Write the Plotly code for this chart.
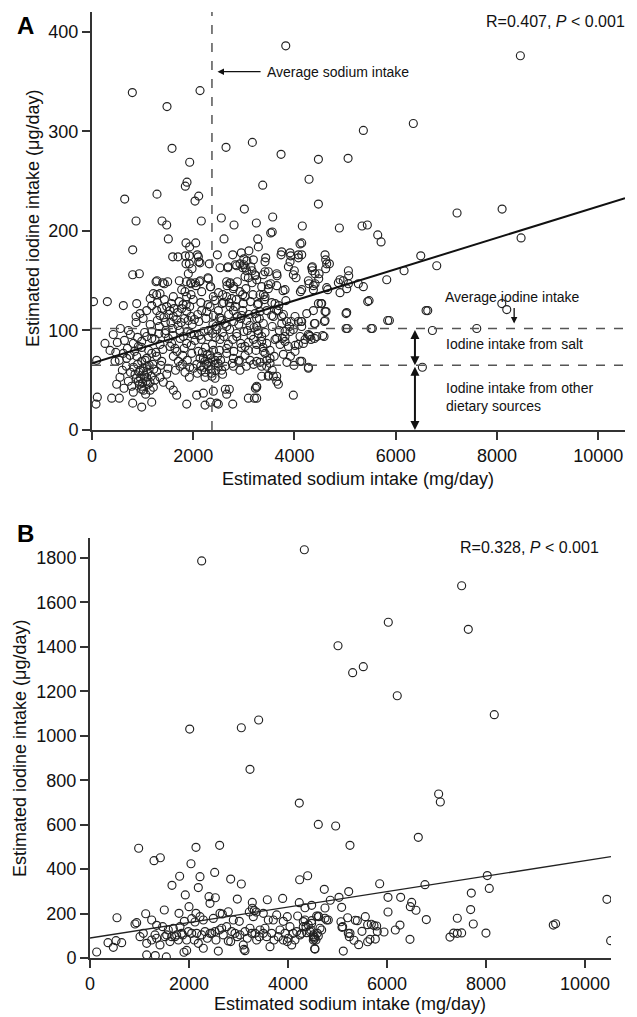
import plotly.graph_objects as go

W, H = 637, 1017
OFF = 8  # page body margin around the figure div

# ---- panel A: estimated sodium (mg/day) vs iodine (ug/day) ----
a_upper = [
    (3828, 386), (8463, 376), (797, 339), (2134, 341), (1482, 325), (6348, 308), (5361, 301),
    (1581, 283), (2648, 284), (3168, 289), (3735, 277), (1930, 269), (4473, 272), (5059, 273),
    (4288, 252), (1877, 249), (1844, 245), (3373, 246), (1284, 237), (646, 232), (2108, 235),
    (2035, 230), (4473, 227), (3010, 222), (7212, 218), (8102, 222), (870, 210), (1383, 210),
    (1476, 206), (2160, 210), (2555, 213), (2806, 206), (3247, 208), (3570, 214), (4155, 205),
    (3531, 198), (3560, 199), (1508, 192), (2608, 192), (3274, 192), (4110, 187), (1857, 188),
    (2049, 188), (1930, 184), (4887, 203), (5335, 205), (5440, 206), (5645, 196), (5711, 189),
    (8477, 193), (4143, 188), (804, 181), (1594, 174), (1699, 174), (1844, 175), (1857, 167),
    (2101, 174), (2134, 168), (2476, 176), (2780, 176), (2924, 167), (3286, 184), (3748, 179),
    (3913, 178), (4077, 176), (3432, 173), (3188, 171), (1923, 175), (2081, 176), (1923, 167),
    (2108, 169), (2318, 167), (2687, 164), (2832, 166), (2997, 166), (3030, 163), (3162, 160),
    (3228, 155), (3735, 176), (3926, 175), (3913, 169), (3880, 164), (4077, 173), (3418, 169),
    (4143, 176), (4604, 176), (4637, 167), (4690, 167), (4617, 171), (4617, 162), (6495, 175),
    (6811, 165), (6165, 160), (2950, 178), (3000, 172), (3060, 170), (3100, 180), (3140, 164),
]
a_mid = [
    (804, 156), (935, 157), (1265, 149), (1429, 147), (1495, 149), (1725, 150), (1903, 157),
    (1956, 147), (2055, 145), (2121, 149), (2298, 152), (2345, 144), (2529, 163), (2684, 163),
    (2858, 165), (2977, 163), (3056, 160), (3023, 154), (3089, 153), (3221, 156), (2660, 149),
    (2726, 147), (2871, 149), (2793, 142), (3418, 159), (3649, 157), (3531, 147), (3649, 145),
    (3814, 141), (3978, 156), (4143, 141), (4341, 163), (4407, 157), (4407, 147), (1212, 137),
    (1278, 136), (1344, 137), (1607, 134), (1772, 141), (1837, 139), (1870, 134), (1956, 136),
    (2167, 139), (2397, 134), (2582, 136), (2661, 134), (2924, 139), (2977, 136), (3023, 134),
    (3319, 136), (3418, 134), (1284, 150), (1397, 148), (1976, 162), (1864, 149), (1950, 148),
    (2042, 148), (2140, 150), (2292, 153), (2338, 144), (2668, 145), (2733, 148), (2800, 144),
    (3162, 148), (3484, 159), (3385, 156), (3656, 155), (3997, 160), (4031, 153), (4354, 160),
    (4479, 152), (3254, 151), (3484, 142), (3774, 140), (4117, 139), (4288, 147), (4374, 141),
    (4657, 141), (4354, 164), (4486, 157), (4275, 150), (4374, 145), (4637, 143), (4867, 148),
    (4900, 151), (4966, 150), (5065, 160), (5072, 155), (5065, 147), (4900, 138), (5032, 142),
    (5262, 147), (5361, 144), (5823, 151), (5474, 130), (3353, 144), (3484, 146), (3386, 136),
    (1150, 132), (1290, 128), (1430, 131), (1570, 127), (1720, 129), (1860, 126), (2000, 131),
    (2150, 128), (2290, 126), (2430, 130), (2570, 127), (2710, 128), (2850, 131), (2990, 127),
    (3130, 129), (3270, 126), (3410, 131), (3550, 128), (3690, 125), (3830, 130), (8096, 127),
    (8194, 121), (2500, 138), (2760, 132), (3040, 142), (3180, 136),
]
a_low = [
    (30, 129), (303, 129), (619, 125), (883, 127), (949, 117), (870, 114), (1081, 120), (1180, 125),
    (1278, 120), (1344, 115), (1476, 124), (1541, 120), (1607, 114), (1673, 111), (1772, 122),
    (1871, 119), (1956, 114), (2022, 111), (2088, 116), (2167, 120), (2266, 119), (2332, 124),
    (2397, 115), (2496, 120), (2562, 110), (2628, 107), (2727, 124), (2793, 120), (2871, 114),
    (2958, 115), (3056, 110), (3122, 105), (3221, 117), (3306, 112), (3385, 107), (3452, 120),
    (3551, 115), (3649, 120), (3748, 114), (3847, 109), (3900, 104), (4011, 114), (4077, 109),
    (4143, 104), (4242, 117), (4374, 120), (4473, 127),
    (92, 70), (257, 87), (356, 80), (455, 69), (619, 77), (685, 72), (751, 75), (817, 87),
    (916, 84), (982, 89), (1081, 94), (1180, 99), (1245, 91), (1344, 86), (1443, 97), (1508, 92),
    (1574, 87), (1640, 82), (1739, 100), (1805, 94), (1871, 87), (1950, 97), (2035, 90),
    (2121, 95), (2213, 99), (2298, 94), (2384, 97), (2463, 101), (2529, 91), (2608, 94),
    (2694, 86), (2780, 91), (2859, 97), (2938, 87), (3023, 84), (3089, 80), (3188, 91),
    (3254, 86), (3353, 94), (3452, 87), (3517, 80), (3616, 91), (3715, 86), (3814, 94),
    (3913, 99), (3978, 101), (4011, 85), (4110, 94), (4209, 91), (4308, 94),
    (883, 74), (982, 69), (1081, 72), (1180, 77), (1278, 74), (1377, 69), (1607, 74), (1706, 69),
    (1791, 75), (1883, 70), (1970, 77), (2134, 72), (2233, 69), (2332, 75), (2431, 70),
    (2661, 77), (2793, 72), (2892, 69), (3023, 75), (3122, 70), (3254, 69), (3418, 77),
    (3517, 72), (3990, 65),
    (488, 46), (553, 53), (632, 42), (718, 49), (784, 44), (850, 56), (916, 49), (982, 44),
    (817, 38), (1015, 59), (1081, 53), (1146, 48), (1212, 43), (1278, 59), (1344, 53), (1410, 48),
    (1476, 56), (1541, 45), (1607, 40), (1673, 35), (1739, 64), (1837, 58), (1923, 53),
    (2002, 62), (2081, 57), (2167, 60), (2233, 53), (2298, 64), (2364, 57), (2431, 52),
    (2496, 64), (2562, 60), (2713, 41), (2661, 36), (2793, 64), (2924, 60), (3089, 32),
    (3208, 32), (3254, 43), (3484, 55), (3583, 54), (3649, 49), (3978, 35), (2200, 37),
    (2397, 39), (2463, 27), (2233, 25), (105, 33), (79, 26), (389, 32), (540, 32), (804, 27),
    (982, 23), (1180, 28), (1871, 26), (2068, 35), (2496, 26), (2780, 26), (2338, 28),
    (2634, 41), (3228, 42),
    (4143, 109), (4407, 107), (4604, 110), (5045, 102), (5539, 102), (6725, 100), (7601, 102),
    (4275, 96), (4327, 91), (4440, 94), (4584, 94), (4176, 87), (4143, 69), (4275, 63),
    (6527, 63), (4538, 127), (4604, 119), (5032, 118), (6633, 120), (5875, 110),
    (870, 108), (1010, 112), (1150, 106), (1290, 110), (1420, 113), (1560, 108), (1700, 105),
    (1830, 112), (1980, 106), (2110, 109), (2250, 112), (2390, 106), (2520, 113), (2660, 104),
    (2800, 109), (2940, 112), (3070, 100), (3200, 103),
    (760, 96), (900, 93), (1040, 98), (1180, 92), (1320, 97), (1460, 100), (1600, 95),
    (1740, 92), (1880, 99), (2020, 96), (2160, 91), (2300, 100), (2440, 93), (2580, 98),
    (2720, 101), (2860, 94), (3000, 99), (3140, 95), (3280, 100),
    (700, 82), (840, 79), (980, 83), (1120, 80), (1260, 78), (1400, 81), (1540, 84), (1680, 79),
    (1820, 82), (1960, 85), (2100, 79), (2240, 83), (2380, 86), (2520, 80), (2660, 82),
    (2800, 79), (2950, 83), (3090, 88), (3240, 80), (3380, 83),
    (820, 63), (950, 60), (1090, 64), (1220, 61), (1360, 65), (1500, 62), (1650, 60), (1790, 66),
    (1930, 63), (2070, 66), (2210, 63), (2350, 61), (2490, 67), (2630, 64), (2770, 67),
    (2910, 70), (3050, 64), (3190, 66), (3320, 68), (3450, 64),
    (960, 52), (1000, 47), (1040, 55), (1070, 49), (980, 41), (1110, 46), (2300, 68), (2350, 72),
    (2420, 66), (2260, 66), (2200, 72),
    (3287, 127), (3320, 119), (3254, 112), (3254, 104), (3287, 97), (3353, 89), (3386, 79),
    (3452, 70), (3353, 54), (3254, 44), (3254, 32),
    (3616, 127), (3682, 120), (3583, 114), (3748, 107), (3814, 99), (3649, 92), (3814, 89),
    (3880, 84), (4077, 86), (4011, 79), (3781, 76), (3517, 67), (3484, 54), (3649, 54),
    (3682, 46), (4110, 69), (4275, 62),
    (4295, 95), (4394, 92), (4558, 95), (4591, 109), (4624, 119), (4525, 127), (5019, 117),
    (5019, 102), (5447, 129), (5513, 102), (5842, 110), (6600, 120), (4394, 107), (4130, 109),
    (3933, 109), (3781, 116),
    (900, 66), (930, 58), (1010, 62), (1050, 70), (1100, 58), (1130, 65), (1170, 54), (940, 46),
    (1020, 40), (1060, 36), (1150, 40), (1200, 66), (880, 52), (1240, 50),
    (2180, 78), (2240, 58), (2280, 76), (2400, 80), (2440, 60), (2480, 74), (2540, 70),
    (2580, 56), (2150, 64), (2370, 54),
    (1330, 104), (1380, 122), (1450, 108), (1520, 116), (1590, 102), (1620, 122), (1690, 118),
    (1760, 108), (1800, 126), (1900, 110), (1930, 124),
    (2450, 104), (2550, 112), (2600, 128), (2700, 116), (2830, 124), (2900, 106), (2980, 120),
    (3100, 116),
    (3350, 64), (3420, 98), (3560, 104), (3600, 74), (3700, 100), (3760, 92), (3850, 68),
    (3920, 74), (3560, 60),
    (420, 96), (500, 88), (560, 102), (640, 90), (720, 100), (600, 60), (680, 64), (760, 58),
    (540, 70), (470, 78),
]
a_fit_x = [0, 10530]
a_fit_y = [67, 233]
avg_sodium = 2370        # mg/day
avg_iodine = 102         # ug/day
iodine_other = 65        # ug/day from other dietary sources
arrow_sodium = 6380      # x of the double arrows

# ---- panel B ----
b_outliers = [
    (2256, 1787), (4330, 1837), (2014, 1030), (3057, 1036), (3407, 1071), (7508, 1675),
    (7642, 1479), (6026, 1511), (5010, 1405), (5306, 1284), (5521, 1311), (6207, 1180),
    (8167, 1095), (3232, 849), (4228, 697), (4612, 601), (983, 494), (2141, 498), (2619, 507),
    (1293, 438), (1421, 451), (2040, 424), (2222, 366), (2519, 385), (1811, 368), (2842, 355),
    (3057, 333), (1656, 327), (2188, 317), (1925, 284), (2532, 271), (2404, 276), (2424, 246),
    (2976, 265), (3279, 250), (3582, 262), (3892, 268), (4235, 352), (4397, 370), (7043, 738),
    (7077, 702), (4963, 594), (5252, 507), (6632, 543), (5852, 334), (4733, 309), (5226, 299),
    (5030, 273), (4854, 260), (6767, 330), (8026, 371), (8066, 313), (7703, 292), (6020, 273),
    (6276, 273), (6498, 250), (6471, 231), (6585, 215), (10443, 264),
]
b_cluster = [
    (545, 181), (909, 153), (1501, 216), (2000, 231), (1125, 199), (1798, 201), (135, 27),
    (364, 69), (471, 48), (525, 78), (640, 69), (1145, 14), (1319, 11), (1542, 5), (1899, 26),
    (1953, 34), (2592, 31), (3111, 39), (3131, 33), (4545, 40),
    (6020, 207), (6794, 173), (7690, 218), (7420, 179), (7743, 153), (7999, 112), (7272, 94),
    (7346, 112), (7420, 111), (7508, 113), (9359, 148), (9406, 154), (10518, 78), (6464, 84),
    (6262, 148), (6168, 126), (5939, 117), (5791, 144), (5764, 85), (5656, 84), (5609, 73),
    (5427, 60), (5333, 80), (5238, 96), (5252, 111), (5494, 120), (5117, 31), (5090, 138),
    (5205, 181), (5360, 170), (5400, 168), (4781, 171), (4620, 186), (4747, 225), (5084, 228),
    (4478, 237), (4343, 226), (4538, 42), (4511, 81), (4538, 93), (4592, 111), (4680, 126),
    (943, 159), (1246, 171), (1347, 147), (1468, 141), (1582, 126), (1683, 133), (1818, 141),
    (1905, 165), (2054, 177), (2141, 201), (2222, 186), (2289, 171), (2121, 162), (2491, 178),
    (2626, 201), (2673, 198), (2794, 208), (2895, 171), (3016, 165), (3279, 224), (3319, 213),
    (3359, 207), (3218, 207), (3299, 186), (3501, 201), (3602, 171), (3703, 171), (3771, 194),
    (3905, 165), (3986, 186), (4040, 141), (4195, 189), (4343, 171), (4478, 156), (4579, 189),
    (1010, 96), (1145, 66), (1246, 81), (1347, 89), (1414, 59), (1515, 96), (1616, 74),
    (1717, 96), (1784, 81), (1872, 104), (1953, 81), (2054, 111), (2107, 81), (2188, 66),
    (2289, 44), (2370, 89), (2458, 111), (2545, 81), (2612, 126), (2693, 104), (2794, 77),
    (2842, 74), (2929, 111), (2976, 96), (3097, 59), (3178, 89), (3266, 111), (3367, 81),
    (3420, 96), (3501, 111), (3569, 96), (3636, 51), (3717, 81), (3804, 96), (3905, 81),
    (3986, 74), (4074, 59), (4107, 111), (4175, 119), (4242, 104), (4363, 141), (4444, 119),
    (4565, 81),
    (1077, 111), (1313, 104), (1549, 104), (1650, 96), (1751, 104), (1852, 111), (1986, 119),
    (2155, 111), (2256, 104), (2323, 119), (2424, 111), (2525, 119), (2660, 134), (2761, 141),
    (2862, 119), (3030, 104), (3131, 119), (3232, 134), (3333, 111), (3434, 126), (3535, 134),
    (3670, 111), (3838, 126), (3939, 111), (4006, 89), (4141, 81), (4276, 111), (4511, 96),
    (4410, 149), (4464, 126), (4377, 114), (4511, 104), (4646, 134), (4747, 179), (4814, 171),
    (5070, 163), (5104, 141), (5218, 111), (5562, 186), (5609, 150), (5683, 152), (5804, 119),
    (5737, 146), (4309, 141), (4478, 168), (4228, 249), (4309, 164), (4612, 189), (4531, 85),
    (4612, 99),
]
b_fit_x = [0, 10525]
b_fit_y = [90, 456]

x_ticks = [0, 2000, 4000, 6000, 8000, 10000]
a_y_ticks = [0, 100, 200, 300, 400]
b_y_ticks = [0, 200, 400, 600, 800, 1000, 1200, 1400, 1600, 1800]

FONT = "Liberation Sans, Arial, sans-serif"
INK = "#111"
FW, FH = W - 2 * OFF, H - OFF


def pxx(p):
    return (p - OFF) / FW


def pxy(p):
    return 1 - (p - OFF) / FH


a_pts = a_upper + a_mid + a_low
b_pts = b_outliers + b_cluster

fig = go.Figure()
marker = dict(symbol="circle-open", size=8, color="#222", line=dict(width=1.15))

fig.add_trace(go.Scatter(x=[p[0] for p in a_pts], y=[p[1] for p in a_pts], mode="markers",
                         marker=marker, xaxis="x", yaxis="y", showlegend=False))
fig.add_trace(go.Scatter(x=a_fit_x, y=a_fit_y, mode="lines", line=dict(color="#111", width=2),
                         xaxis="x", yaxis="y", showlegend=False))
fig.add_trace(go.Scatter(x=[p[0] for p in b_pts], y=[p[1] for p in b_pts], mode="markers",
                         marker=marker, xaxis="x2", yaxis="y2", showlegend=False))
fig.add_trace(go.Scatter(x=b_fit_x, y=b_fit_y, mode="lines", line=dict(color="#222", width=1.3),
                         xaxis="x2", yaxis="y2", showlegend=False))

axis_common = dict(showline=True, linecolor="#333", linewidth=2, ticks="outside", ticklen=8,
                   tickwidth=1.5, tickcolor="#333", showgrid=False, zeroline=False,
                   tickfont=dict(family=FONT, size=18, color=INK))

fig.update_layout(
    width=FW, height=FH, margin=dict(l=0, r=0, t=0, b=0, autoexpand=False),
    plot_bgcolor="white", paper_bgcolor="white",
    xaxis=dict(domain=[pxx(92), pxx(625)], range=[0, 10530], anchor="y",
               tickvals=x_ticks, ticktext=[str(v) for v in x_ticks], **axis_common),
    yaxis=dict(domain=[pxy(430), pxy(12)], range=[0, 420], anchor="x",
               tickvals=a_y_ticks, ticktext=[str(v) for v in a_y_ticks], **axis_common),
    xaxis2=dict(domain=[pxx(90), pxx(611)], range=[0, 10525], anchor="y2",
                tickvals=x_ticks, ticktext=[str(v) for v in x_ticks], **axis_common),
    yaxis2=dict(domain=[pxy(958), pxy(538)], range=[0, 1890], anchor="x2",
                tickvals=b_y_ticks, ticktext=[str(v) for v in b_y_ticks], **axis_common),
)

dash = dict(color="#555", width=1.5, dash="dash")
fig.add_shape(type="line", xref="x", yref="y", x0=avg_sodium, x1=avg_sodium, y0=0, y1=420, line=dash)
fig.add_shape(type="line", xref="x", yref="y", x0=0, x1=10530, y0=avg_iodine, y1=avg_iodine, line=dash)
fig.add_shape(type="line", xref="x", yref="y", x0=0, x1=10530, y0=iodine_other, y1=iodine_other, line=dash)

ann = []
small = dict(family=FONT, size=14, color=INK)
# double arrows
for y0, y1 in [(avg_iodine, iodine_other), (iodine_other, 0)]:
    ann.append(dict(xref="x", yref="y", axref="x", ayref="y", x=arrow_sodium, y=y1,
                    ax=arrow_sodium, ay=y0, text="", showarrow=True, arrowhead=2,
                    startarrowhead=2, arrowside="end+start", arrowwidth=2, arrowsize=0.9,
                    arrowcolor="#111"))
# average sodium arrow
ann.append(dict(xref="x", yref="y", axref="x", ayref="y", x=2480, y=360, ax=3360, ay=360,
                text="", showarrow=True, arrowhead=2, arrowwidth=1.3, arrowsize=1, arrowcolor="#111"))
ann.append(dict(xref="x", yref="y", x=3420, y=360, text="Average sodium intake", showarrow=False,
                xanchor="left", yanchor="middle", font=small))
# average iodine arrow
ann.append(dict(xref="x", yref="y", axref="x", ayref="y", x=8340, y=107, ax=8340, ay=124,
                text="", showarrow=True, arrowhead=2, arrowwidth=1.3, arrowsize=1, arrowcolor="#111"))
ann.append(dict(xref="x", yref="y", x=8313, y=134, text="Average iodine intake", showarrow=False,
                xanchor="center", yanchor="middle", font=small))
ann.append(dict(xref="x", yref="y", x=6960, y=86, text="Iodine intake from salt", showarrow=False,
                xanchor="left", yanchor="middle", font=small))
ann.append(dict(xref="x", yref="y", x=6960, y=33, text="Iodine intake from other<br>dietary sources",
                showarrow=False, xanchor="left", yanchor="middle", align="left", font=small))

# stats
ann.append(dict(xref="paper", yref="paper", x=pxx(627), y=pxy(21), xanchor="right", yanchor="middle",
                text="R=0.407, <i>P</i> < 0.001", showarrow=False,
                font=dict(family=FONT, size=16, color=INK)))
ann.append(dict(xref="paper", yref="paper", x=pxx(601), y=pxy(547), xanchor="right", yanchor="middle",
                text="R=0.328, <i>P</i> < 0.001", showarrow=False,
                font=dict(family=FONT, size=16, color=INK)))
# panel letters
for letter, yy in [("A", 25), ("B", 533)]:
    ann.append(dict(xref="paper", yref="paper", x=pxx(25), y=pxy(yy), text="<b>%s</b>" % letter,
                    xanchor="center", yanchor="middle", showarrow=False,
                    font=dict(family=FONT, size=24, color="#000")))
# axis titles
title_font = dict(family=FONT, size=18, color=INK)
ann.append(dict(xref="paper", yref="paper", x=pxx(358), y=pxy(479), xanchor="center", yanchor="middle",
                text="Estimated sodium intake (mg/day)", showarrow=False, font=title_font))
ann.append(dict(xref="paper", yref="paper", x=pxx(350), y=pxy(1004), xanchor="center", yanchor="middle",
                text="Estimated sodium intake (mg/day)", showarrow=False, font=title_font))
ann.append(dict(xref="paper", yref="paper", x=pxx(33), y=pxy(218), textangle=-90,
                xanchor="center", yanchor="middle",
                text="Estimated iodine intake (μg/day)", showarrow=False, font=title_font))
ann.append(dict(xref="paper", yref="paper", x=pxx(20), y=pxy(748), textangle=-90,
                xanchor="center", yanchor="middle",
                text="Estimated iodine intake (μg/day)", showarrow=False, font=title_font))

fig.update_layout(annotations=ann)
fig.write_html("out.html")
